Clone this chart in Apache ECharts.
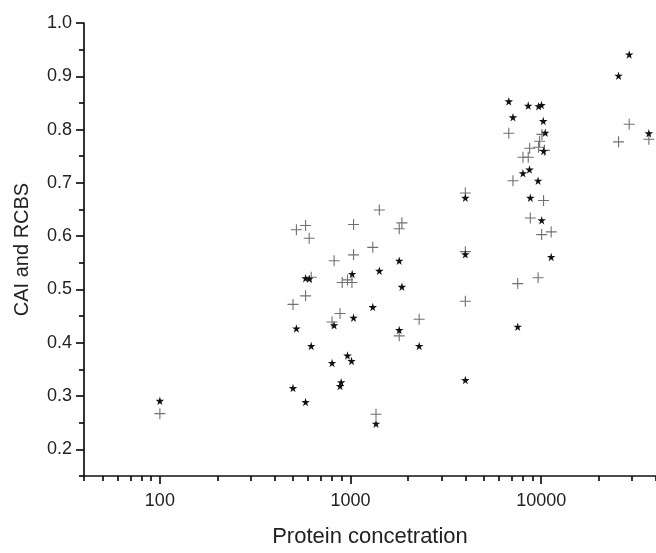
<!DOCTYPE html>
<html>
<head>
<meta charset="utf-8">
<title>CAI and RCBS vs protein concentration</title>
<script src="https://cdn.jsdelivr.net/npm/echarts@6/dist/echarts.min.js"></script>
<style>
  html, body { margin: 0; padding: 0; background: #fff; }
  #chart { width: 656px; height: 553px; }
</style>
</head>
<body>
<div id="chart"></div>
<script>
// star markers (black)
const starX = [100, 499, 520, 581, 581, 607, 622, 800, 820, 881, 893, 964, 1012, 1020, 1037,
  1308, 1360, 1416, 1800, 1860, 1800, 2290, 4000, 4000, 4000, 6760, 8550, 9690, 10030, 7110,
  10250, 10500, 10300, 8020, 8680, 9630, 8770, 10060, 11280, 7530, 28940, 25450, 36690];
const starY = [0.291, 0.315, 0.427, 0.289, 0.521, 0.520, 0.394, 0.362, 0.433, 0.319, 0.326, 0.376, 0.366, 0.529, 0.447,
  0.467, 0.248, 0.535, 0.554, 0.505, 0.424, 0.394, 0.672, 0.566, 0.330, 0.853, 0.845, 0.844, 0.846, 0.823,
  0.816, 0.794, 0.760, 0.718, 0.725, 0.704, 0.672, 0.630, 0.561, 0.430, 0.941, 0.901, 0.793];

// cross markers (grey)
const plusX = [100, 520, 581, 607, 499, 581, 622, 820, 1037, 1037, 904, 964, 1017, 881, 800,
  1308, 1416, 1860, 1800, 2290, 1800, 1360, 4000, 4000, 4000, 6760, 10085, 9810, 9690, 8700,
  10400, 8025, 8550, 7110, 10290, 8770, 10050, 11280, 7530, 9630, 28940, 25450, 36690];
const plusY = [0.267, 0.612, 0.620, 0.596, 0.472, 0.488, 0.523, 0.554, 0.565, 0.622, 0.513, 0.518, 0.513, 0.455, 0.439,
  0.579, 0.649, 0.625, 0.614, 0.444, 0.413, 0.266, 0.681, 0.571, 0.478, 0.793, 0.791, 0.778, 0.767, 0.765,
  0.761, 0.748, 0.748, 0.704, 0.667, 0.634, 0.603, 0.608, 0.511, 0.522, 0.810, 0.777, 0.782];

const xMajorTicks = [100, 1000, 10000];
const xMinorTicks = [40, 50, 60, 70, 80, 90, 200, 300, 400, 500, 600, 700, 800, 900,
  2000, 3000, 4000, 5000, 6000, 7000, 8000, 9000, 20000, 30000, 40000];
const yMajorTicks = [0.2, 0.3, 0.4, 0.5, 0.6, 0.7, 0.8, 0.9, 1.0];
const yMinorTicks = [0.15, 0.25, 0.35, 0.45, 0.55, 0.65, 0.75, 0.85, 0.95];

const STAR = 'path://M50,0L61,35H98L68,57L79,91L50,70L21,91L32,57L2,35H39Z';
const PLUS = 'path://M4.5,0H5.5V4.5H10V5.5H5.5V10H4.5V5.5H0V4.5H4.5Z';
const FONT = '"Liberation Sans", Arial, sans-serif';
const AXIS_COLOR = '#111';

const zip = (xs, ys) => xs.map((x, i) => [x, ys[i]]);

const chart = echarts.init(document.getElementById('chart'));

const axisLineStyle = { color: AXIS_COLOR, width: 1.7 };

chart.setOption({
  animation: false,
  backgroundColor: '#fff',
  grid: { left: 84, top: 23, width: 574, height: 463, containLabel: false },
  xAxis: [
    {
      type: 'log', logBase: 10, min: 40, max: 40000, position: 'bottom', offset: 0,
      name: 'Protein concetration', nameLocation: 'middle', nameGap: 50,
      nameTextStyle: { fontFamily: FONT, fontSize: 22, color: '#222' },
      axisLine: { show: true, lineStyle: axisLineStyle },
      axisTick: { show: true, inside: false, length: 8, lineStyle: axisLineStyle, customValues: xMajorTicks },
      axisLabel: {
        show: true, margin: 16, fontFamily: FONT, fontSize: 18, color: '#222',
        customValues: xMajorTicks, formatter: v => String(Math.round(v))
      },
      splitLine: { show: false }, minorTick: { show: false }
    },
    {
      type: 'log', logBase: 10, min: 40, max: 40000, position: 'bottom', offset: 0,
      axisLine: { show: false },
      axisTick: { show: true, inside: false, length: 5, lineStyle: axisLineStyle, customValues: xMinorTicks },
      axisLabel: { show: false },
      splitLine: { show: false }
    }
  ],
  yAxis: [
    {
      type: 'value', min: 0.15, max: 1.0, position: 'left', offset: 0,
      name: 'CAI and RCBS', nameLocation: 'middle', nameGap: 52, nameRotate: 90,
      nameTextStyle: { fontFamily: FONT, fontSize: 20, color: '#222' },
      axisLine: { show: true, lineStyle: axisLineStyle },
      axisTick: { show: true, inside: false, length: 8, lineStyle: axisLineStyle, customValues: yMajorTicks },
      axisLabel: {
        show: true, margin: 12, fontFamily: FONT, fontSize: 18, color: '#222',
        customValues: yMajorTicks, formatter: v => v.toFixed(1)
      },
      splitLine: { show: false }
    },
    {
      type: 'value', min: 0.15, max: 1.0, position: 'left', offset: 0,
      axisLine: { show: false },
      axisTick: { show: true, inside: false, length: 5, lineStyle: axisLineStyle, customValues: yMinorTicks },
      axisLabel: { show: false },
      splitLine: { show: false }
    }
  ],
  series: [
    {
      name: 'RCBS', type: 'scatter', xAxisIndex: 0, yAxisIndex: 0,
      data: zip(plusX, plusY),
      symbol: PLUS, symbolSize: 11,
      itemStyle: { color: '#707070', opacity: 1 }
    },
    {
      name: 'CAI', type: 'scatter', xAxisIndex: 0, yAxisIndex: 0,
      data: zip(starX, starY),
      symbol: STAR, symbolSize: 8.5,
      itemStyle: { color: '#111', opacity: 1 }
    }
  ]
});
</script>
</body>
</html>
